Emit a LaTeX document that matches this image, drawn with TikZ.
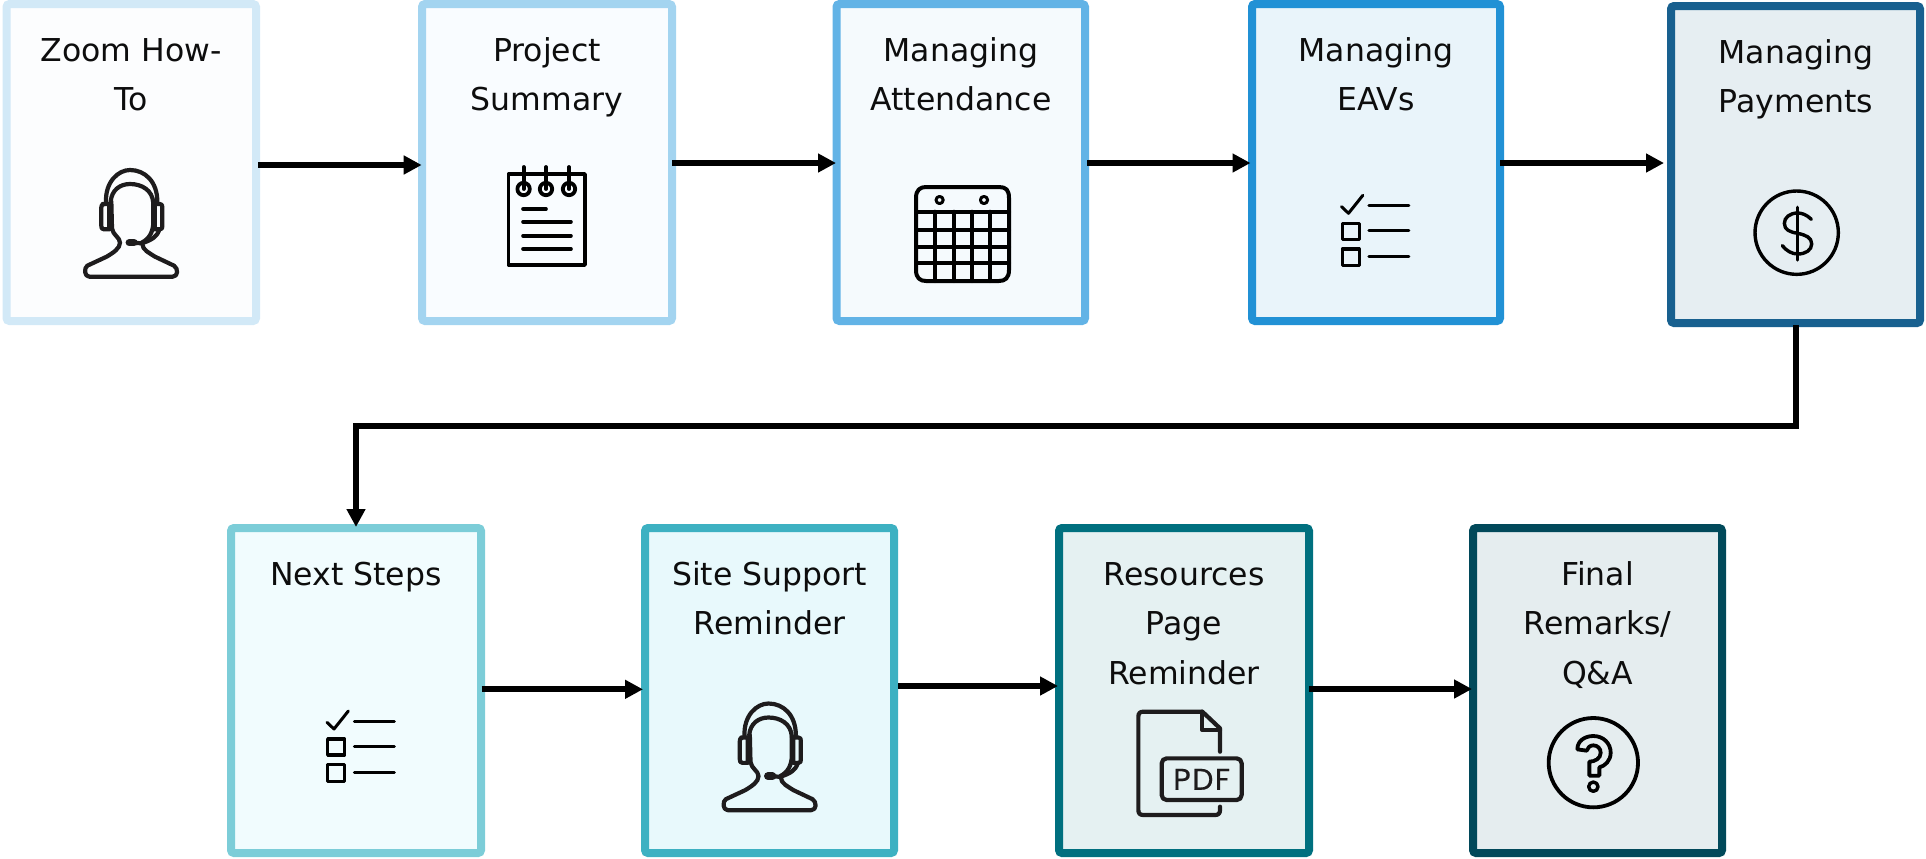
\documentclass[tikz,border=0pt]{standalone}
\usepackage{fontspec}
\setmainfont{DejaVu Sans}
\newfontfamily\pdffont[FakeBold=0.5,LetterSpace=5]{Poppins}
\usetikzlibrary{arrows.meta}
\definecolor{iconc}{HTML}{1E1C1D}
\definecolor{ba}{HTML}{D2E9F7}\definecolor{fa}{HTML}{FCFDFE}
\definecolor{bb}{HTML}{A3D4F0}\definecolor{fb}{HTML}{F9FCFF}
\definecolor{bc}{HTML}{62B3E6}\definecolor{fc}{HTML}{F5FAFD}
\definecolor{bd}{HTML}{2191D5}\definecolor{fd}{HTML}{E9F4FA}
\definecolor{be}{HTML}{18608F}\definecolor{fe}{HTML}{E6EEF2}
\definecolor{bf}{HTML}{7CCDD8}\definecolor{ff}{HTML}{F1FCFE}
\definecolor{bg}{HTML}{3DB1C2}\definecolor{fg}{HTML}{E8F9FC}
\definecolor{bh}{HTML}{00707F}\definecolor{fh}{HTML}{E5F1F2}
\definecolor{bi}{HTML}{01495A}\definecolor{fi}{HTML}{E5EDEF}
\tikzset{
  boxn/.style n args={4}{draw=#1,fill=#2,line width=4pt,rounded corners=1.5pt,minimum width=#3*0.5pt,minimum height=#4*0.5pt,inner sep=0pt,rectangle},
  lbl/.style={anchor=north,align=center,inner sep=0pt,outer sep=0pt,text=black!95,font=\fontsize{15.75}{24.75}\selectfont},
  flow/.style={line width=3pt,draw=black,-{Triangle[length=9pt,width=9pt]}},
  zunits/.style={x=0.16667pt,y=-0.16667pt},
  ic/.style={draw=iconc,line width=2.1pt,line join=round,line cap=round},
  icb/.style={draw=black,line width=1.8pt,line join=round,line cap=round},
}
\newcommand{\iconHead}[2]{\begin{scope}[shift={(#1,#2)},zunits]
 \draw[ic] (108,128) .. controls (105,65) and (145,30) .. (180,30) .. controls (225,30) and (262,65) .. (262,125);
 \draw[ic] (122,125) .. controls (125,90) and (150,72) .. (180,72) .. controls (215,72) and (248,90) .. (250,130);
 \draw[ic] (124,125) -- (126,205) .. controls (128,225) and (150,232) .. (150,248) .. controls (150,265) and (130,278) .. (110,290) -- (52,317) .. controls (42,323) and (42,350) .. (58,350) -- (308,350) .. controls (325,350) and (325,325) .. (312,317) -- (255,290) .. controls (240,280) and (217,270) .. (217,252);
 \draw[ic] (98,132) -- (118,132) -- (118,208) -- (102,208) .. controls (95,208) and (94,204) .. (94,198) -- (94,142) .. controls (94,136) and (95,132) .. (104,132);
 \draw[ic] (254,132) -- (270,132) .. controls (276,132) and (277,136) .. (277,142) -- (277,198) .. controls (277,204) and (276,208) .. (270,208) -- (254,208) -- cycle;
 \draw[ic] (250,130) -- (250,190) .. controls (248,215) and (240,235) .. (215,248);
 \draw[ic] (268,208) .. controls (262,230) and (245,240) .. (215,250) -- (190,248);
 \draw[draw=iconc,line width=3.8pt,line cap=round] (178,248) -- (192,248);
\end{scope}}
\newcommand{\iconCheck}[2]{\begin{scope}[shift={(#1,#2)},zunits]
 \draw[icb,line width=1.5pt] (321,622) -- (342,642) -- (385,588);
 \draw[icb,line width=1.5pt] (403,618) -- (523,618) (403,695) -- (523,695) (403,773) -- (523,773);
 \draw[icb,line width=1.6pt] (323,672) rectangle (374,720) (323,749) rectangle (374,799);
\end{scope}}
\begin{document}
\begin{tikzpicture}[x=0.5pt,y=-0.5pt]
\useasboundingbox (0,0) rectangle (1926,858);
% boxes
\node[boxn={ba}{fa}{249.5}{317}] (b1) at (131.25,162.5) {};
\node[boxn={bb}{fb}{250}{317}] (b2) at (547,162.5) {};
\node[boxn={bc}{fc}{248.5}{317}] (b3) at (960.75,162.5) {};
\node[boxn={bd}{fd}{248}{317}] (b4) at (1376,162.5) {};
\node[boxn={be}{fe}{249}{317}] (b5) at (1795.5,164.5) {};
\node[boxn={bf}{ff}{250}{325}] (b6) at (356,690.5) {};
\node[boxn={bg}{fg}{249}{325}] (b7) at (769.5,690.5) {};
\node[boxn={bh}{fh}{250}{325}] (b8) at (1184,690.5) {};
\node[boxn={bi}{fi}{249}{325}] (b9) at (1597.5,690.5) {};
% labels
\node[lbl] (t1) at (131,26.6) {\strut Zoom How-\\\strut To};
\node[lbl] (t2) at (547,26.6) {\strut Project\\\strut Summary};
\node[lbl] (t3) at (961,26.6) {\strut Managing\\\strut Attendance};
\node[lbl] (t4) at (1376,26.6) {\strut Managing\\\strut EAVs};
\node[lbl] (t5) at (1796,28.6) {\strut Managing\\\strut Payments};
\node[lbl] (t6) at (356,550.6) {\strut Next Steps};
\node[lbl] (t7) at (769.5,550.6) {\strut Site Support\\\strut Reminder};
\node[lbl] (t8) at (1184,550.6) {\strut Resources\\\strut Page\\\strut Reminder};
\node[lbl] (t9) at (1597.5,550.6) {\strut Final\\\strut Remarks/\\\strut Q\&A};
% connectors
\coordinate (bend) at (1000,426);
\draw[flow] ([shift={(-2,2.5)}]b1.east) -- ([shift={(3.7,2.5)}]b2.west);
\draw[flow] ([shift={(-4,0.5)}]b2.east) -- ([shift={(3.5,0.5)}]b3.west);
\draw[flow] ([shift={(-2,0.5)}]b3.east) -- ([shift={(2.5,0.5)}]b4.west);
\draw[flow] ([shift={(-4,0.5)}]b4.east) -- ([shift={(-3,-1.5)}]b5.west);
\draw[flow] ([yshift=1pt]b5.south) |- (bend) -| ([yshift=-1.5pt]b6.north);
\draw[flow] ([shift={(-3.3,-1.2)}]b6.east) -- ([shift={(2,-1.2)}]b7.west);
\draw[flow] ([shift={(0,-4.5)}]b7.east) -- ([shift={(3,-4.5)}]b8.west);
\draw[flow] ([shift={(-4,-1.5)}]b8.east) -- ([shift={(3,-1.5)}]b9.west);
% icons
\iconHead{70}{160}
\iconHead{708.5}{693.5}
\iconCheck{1234.5}{-0.7}
\iconCheck{220}{515}
% notebook
\draw[icb] (508.6,174) rectangle (585,265);
\foreach \cx in {523.6,546,569}{
  \draw[icb,line width=1.9pt] (\cx,189) circle (6.2);
  \draw[icb,line width=1.9pt] (\cx,167) -- (\cx,189);
}
\draw[icb] (523,209) -- (546,209) (523,221.7) -- (571,221.7) (523,235.7) -- (571,235.7) (523,249) -- (571,249);
% calendar
\draw[icb,line width=2pt] (916,198) .. controls (916,190) and (920,187) .. (926,187) -- (999,187) .. controls (1006,187) and (1009,190) .. (1009,198) -- (1009,270) .. controls (1009,278) and (1005,281) .. (999,281) -- (926,281) .. controls (920,281) and (916,278) .. (916,270) -- cycle;
\draw[icb,line width=2pt] (916,211.7) -- (1009,211.7) (916,230) -- (1009,230) (916,246.7) -- (1009,246.7) (916,263.3) -- (1009,263.3);
\draw[icb,line width=2pt] (934.6,211.7) -- (934.6,281) (954,211.7) -- (954,281) (972,211.7) -- (972,281) (990,211.7) -- (990,281);
\draw[icb,line width=1.5pt] (939.6,200) circle (3.6) (984,200) circle (3.6);
% dollar
\begin{scope}[shift={(1745,180)},zunits]
 \draw[icb,line width=1.7pt] (155,158) circle (125);
 \draw[icb,line width=1.7pt] (158,82) -- (158,240);
 \draw[icb,line width=1.7pt] (199,118) .. controls (185,104) and (170,99) .. (158,99) .. controls (135,99) and (118,112) .. (118,130) .. controls (118,150) and (135,156) .. (158,160) .. controls (182,165) and (200,172) .. (200,192) .. controls (200,210) and (182,222) .. (158,222) .. controls (140,222) and (124,212) .. (112,197);
\end{scope}
% question
\begin{scope}[shift={(1540,710)},zunits]
 \draw[icb,line width=1.9pt] (160,158) circle (134);
 \draw[icb,line width=1.9pt] (112,118) .. controls (112,92) and (135,78) .. (160,78) .. controls (190,78) and (212,100) .. (212,128) .. controls (212,152) and (195,168) .. (178,172) -- (178,197) -- (148,197) -- (148,155) .. controls (165,155) and (182,145) .. (182,128) .. controls (182,115) and (172,106) .. (160,106) .. controls (150,106) and (142,113) .. (140,122) -- cycle;
 \draw[icb,line width=1.7pt] (160,230) circle (14);
\end{scope}
% pdf
\begin{scope}[shift={(1125,700)},zunits]
 \draw[ic] (285,155) -- (285,85) -- (232,35) -- (55,35) .. controls (45,35) and (40,40) .. (40,50) -- (40,330) .. controls (40,340) and (45,345) .. (55,345) -- (270,345) .. controls (280,345) and (285,340) .. (285,330) -- (285,320);
 \draw[ic] (232,35) -- (232,90) -- (285,90);
 \draw[ic,rounded corners=2.5pt] (110,175) rectangle (350,300);
 \node[inner sep=0pt,text=iconc,font=\pdffont\fontsize{15}{16}\selectfont] (pdf) at (230,238) {PDF};
\end{scope}
\end{tikzpicture}
\end{document}
